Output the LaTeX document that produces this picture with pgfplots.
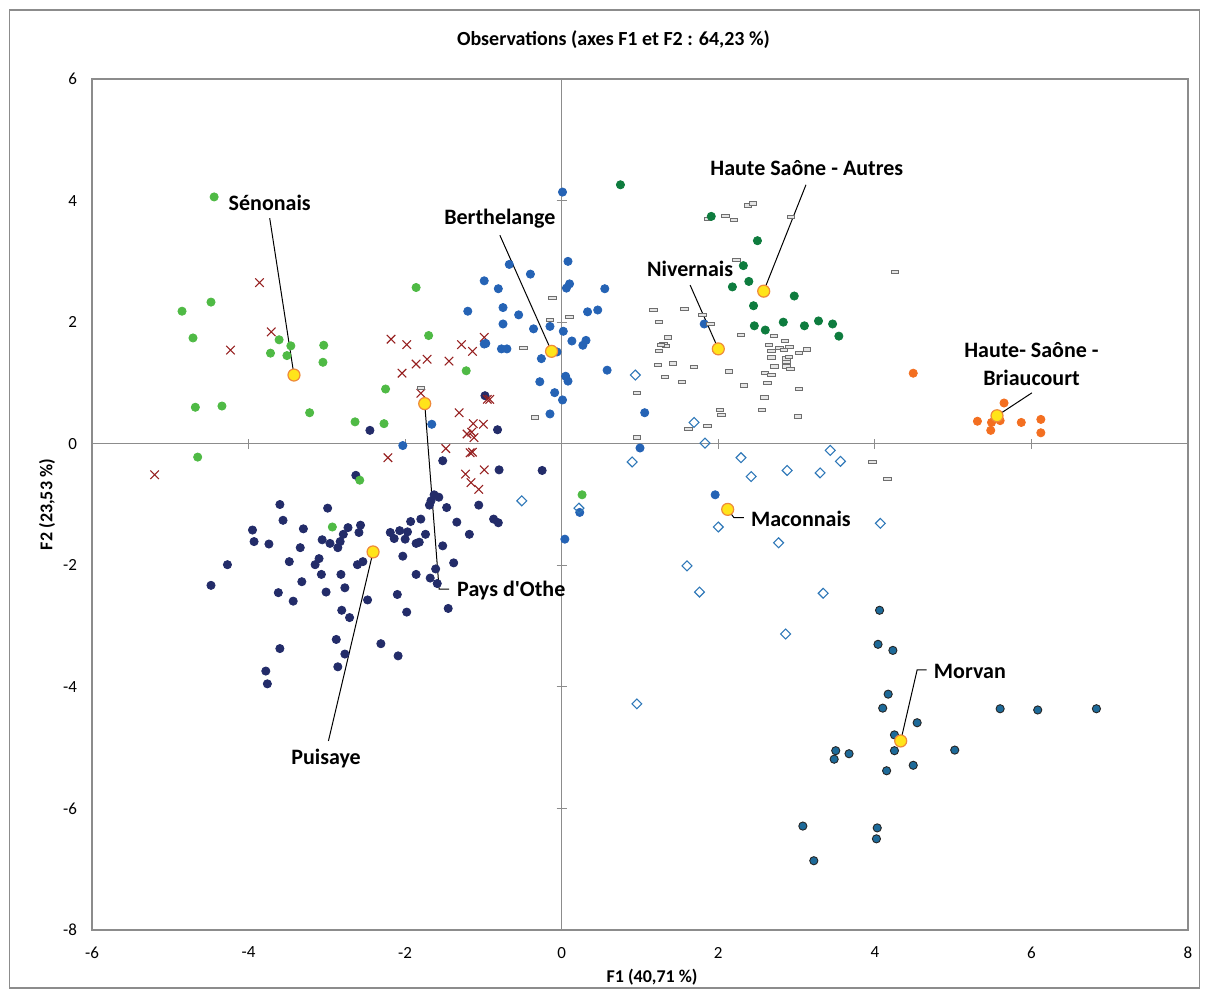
\documentclass[border=0pt]{standalone}
\usepackage{fontspec}
\setmainfont{Carlito}
\usepackage{pgfplots}
\pgfplotsset{compat=1.18}

\definecolor{cSen}{HTML}{4FBA45}
\definecolor{cOthe}{HTML}{962020}
\definecolor{cBert}{HTML}{2563B5}
\definecolor{cPuis}{HTML}{232C69}
\definecolor{cNiv}{HTML}{6E6E6E}
\definecolor{cHSA}{HTML}{0E7C3E}
\definecolor{cBria}{HTML}{F36F21}
\definecolor{cMac}{HTML}{2F78B8}
\definecolor{cMorv}{HTML}{1D6A99}
\definecolor{cCentre}{HTML}{FFE41A}
\definecolor{cCentreB}{HTML}{EE8A3A}
\definecolor{cAxe}{HTML}{8C8C8C}

\begin{document}
\begin{tikzpicture}[x=0.5pt,y=0.5pt]
\path[use as bounding box] (0,0) rectangle (1209,998);
\draw[cAxe, line width=0.7pt] (9.5,10) rectangle (1199.5,988);

\begin{axis}[
  at={(46pt,34pt)}, anchor=south west,
  scale only axis, width=548pt, height=425.5pt,
  xmin=-6, xmax=8, ymin=-8, ymax=6,
  xtick={-6,-4,...,8}, ytick={-8,-6,...,6},
  axis line style={cAxe, line width=0.7pt},
  major tick length=0pt,
  /pgf/number format/assume math mode=true,
  ticklabel style={font=\fontsize{8.5}{10}\selectfont},
  xticklabel style={inner sep=0pt, anchor=north, yshift=-8.3pt},
  yticklabel style={inner sep=0pt, anchor=east, xshift=-7.3pt},
  title={Observations (axes F1 et F2 : 64,23 \%)},
  title style={font=\bfseries\fontsize{10}{12}\selectfont, at={(axis description cs:0.4758,1.0317)}, anchor=center},
  xlabel={F1 (40,71 \%)},
  xlabel style={font=\bfseries\fontsize{9}{11}\selectfont, at={(axis description cs:0.511,-0.0552)}, anchor=center},
  ylabel={F2 (23,53 \%)},
  ylabel style={font=\bfseries\fontsize{9}{11}\selectfont, at={(axis description cs:-0.041,0.5)}, anchor=center, rotate=0},
  clip=false,
]

% axes centraux
\draw[cAxe, line width=0.6pt] (axis cs:0,-8) -- (axis cs:0,6);
\draw[cAxe, line width=0.6pt] (axis cs:-6,0) -- (axis cs:8,0);
\pgfplotsinvokeforeach{-4,-2,2,4,6}{\draw[cAxe, line width=0.6pt] ([yshift=-2.5pt]axis cs:#1,0) -- ([yshift=2.5pt]axis cs:#1,0);}
\pgfplotsinvokeforeach{-6,-4,-2,2,4}{\draw[cAxe, line width=0.6pt] ([xshift=-2.5pt]axis cs:0,#1) -- ([xshift=2.5pt]axis cs:0,#1);}

% Puisaye
\addplot[only marks, mark=*, mark size=2.05pt, color=cPuis] coordinates {
(-0.98,0.79) (-0.82,0.23) (-2.45,0.22) (-1.52,-0.28) (-2.63,-0.52) (-0.80,-0.43) (-0.25,-0.44)
(-3.60,-1.00) (-2.99,-1.06) (-1.63,-0.84) (-1.57,-0.88) (-1.67,-0.94) (-1.69,-1.01) (-1.47,-1.05)
(-1.06,-1.01) (-0.87,-1.24) (-0.81,-1.30) (-3.56,-1.26) (-3.95,-1.42) (-3.30,-1.40) (-1.93,-1.28)
(-1.80,-1.24) (-1.34,-1.29) (-2.73,-1.38) (-2.57,-1.34) (-2.59,-1.46) (-2.79,-1.49) (-2.19,-1.46)
(-2.07,-1.43) (-1.97,-1.45) (-1.74,-1.49) (-1.18,-1.49) (-3.93,-1.61) (-3.74,-1.65) (-3.06,-1.58)
(-2.96,-1.64) (-2.83,-1.61) (-2.86,-1.71) (-3.34,-1.71) (-2.14,-1.56) (-2.00,-1.57) (-1.86,-1.64)
(-1.82,-1.62) (-1.52,-1.68) (-4.27,-1.99) (-3.48,-1.94) (-3.10,-1.89) (-3.15,-1.99) (-2.61,-1.99)
(-2.54,-1.94) (-2.03,-1.85) (-1.38,-1.96) (-3.07,-2.15) (-2.82,-2.15) (-1.86,-2.15) (-1.61,-2.06)
(-1.68,-2.21) (-1.59,-2.30) (-4.48,-2.33) (-3.32,-2.27) (-3.62,-2.45) (-3.43,-2.59) (-3.01,-2.44)
(-2.77,-2.37) (-2.48,-2.57) (-2.10,-2.48) (-2.81,-2.74) (-2.71,-2.86) (-1.98,-2.77) (-1.45,-2.71)
(-3.60,-3.37) (-2.88,-3.22) (-2.77,-3.46) (-2.31,-3.29) (-2.09,-3.49) (-2.86,-3.67) (-3.78,-3.74)
(-3.76,-3.95)
};

% Senonais
\addplot[only marks, mark=*, mark size=2.05pt, color=cSen] coordinates {
(-4.44,4.06) (-4.48,2.33) (-4.85,2.18) (-4.71,1.74) (-3.61,1.71) (-3.46,1.61) (-3.04,1.62)
(-3.72,1.49) (-3.51,1.45) (-3.05,1.34) (-4.68,0.60) (-4.34,0.62) (-3.22,0.51) (-2.25,0.90)
(-2.64,0.36) (-2.27,0.33) (-4.65,-0.22) (-2.58,-0.60) (-1.86,2.57) (-1.70,1.78) (-1.22,1.20)
(-2.93,-1.37) (0.26,-0.84)
};

% Pays d'Othe
\addplot[only marks, mark=x, mark size=3pt, color=cOthe, mark options={line width=0.55pt}] coordinates {
(-5.20,-0.51) (-4.23,1.54) (-3.86,2.65) (-3.71,1.84) (-2.18,1.72) (-1.98,1.63) (-2.04,1.16)
(-2.22,-0.23) (-1.86,1.31) (-1.72,1.39) (-1.44,1.36) (-1.28,1.63) (-1.14,1.52) (-0.99,1.75)
(-1.80,0.83) (-1.31,0.51) (-1.13,0.33) (-1.00,0.32) (-1.21,0.16) (-1.15,0.19) (-1.12,0.10)
(-0.95,0.73) (-0.92,0.73) (-1.48,-0.08) (-1.17,-0.15) (-1.14,-0.14) (-1.23,-0.50) (-0.99,-0.43)
(-1.16,-0.64) (-1.06,-0.75)
};

% Berthelange
\addplot[only marks, mark=*, mark size=2.05pt, color=cBert] coordinates {
(0.01,4.14) (0.08,3.00) (-0.67,2.95) (-0.40,2.79) (-0.99,2.68) (-0.81,2.55) (0.10,2.63) (0.06,2.56)
(0.55,2.55) (-1.20,2.18) (-0.75,2.24) (-0.55,2.12) (0.33,2.17) (0.46,2.20) (-0.75,1.97) (-0.36,1.89)
(-0.15,1.93) (0.02,1.85) (0.13,1.69) (0.31,1.70) (0.27,1.62) (-0.99,1.64) (-0.97,1.65) (-0.77,1.56)
(-0.70,1.56) (-0.06,1.51) (-0.26,1.40) (0.58,1.21) (0.05,1.11) (0.08,1.03) (-0.28,1.02) (-0.09,0.84)
(0.01,0.72) (-0.15,0.49) (-1.66,0.32) (-2.03,-0.03) (1.06,0.51) (1.00,-0.07) (1.96,-0.84)
(0.23,-1.13) (0.04,-1.57) (1.82,1.97)
};

% Nivernais
\addplot[only marks, mark=square*, mark size=1.85pt, mark options={yscale=0.45, fill=white!80!gray, draw=cNiv, line width=0.5pt}] coordinates {
(2.38,3.92) (2.44,3.95) (1.87,3.70) (2.09,3.75) (2.20,3.68) (2.93,3.73) (2.23,3.02) (4.26,2.83)
(1.17,2.20) (1.57,2.22) (1.80,2.12) (1.24,2.00) (1.90,1.97) (1.36,1.75) (1.30,1.64) (1.33,1.61)
(1.27,1.62) (1.24,1.53) (2.29,1.79) (2.71,1.77) (2.85,1.69) (2.65,1.62) (2.78,1.58) (2.84,1.54)
(2.91,1.59) (2.68,1.52) (3.03,1.49) (3.13,1.55) (2.68,1.42) (2.87,1.40) (2.90,1.43) (2.87,1.34)
(2.72,1.27) (2.87,1.27) (2.92,1.23) (1.23,1.30) (1.42,1.32) (1.69,1.26) (1.32,1.10) (1.54,1.02)
(2.14,1.19) (2.60,1.16) (2.68,1.13) (2.63,1.00) (2.33,0.96) (3.03,0.90) (0.96,0.83) (2.59,0.76)
(2.02,0.56) (2.04,0.47) (2.56,0.55) (3.02,0.45) (1.86,0.29) (1.62,0.24) (0.96,0.10) (3.97,-0.30)
(4.16,-0.58) (-0.12,2.40) (-0.15,2.03) (0.10,2.09) (-0.49,1.58) (-0.34,0.43) (-1.80,0.92)
};

% Haute Saone - Autres
\addplot[only marks, mark=*, mark size=2.05pt, color=cHSA] coordinates {
(0.75,4.26) (1.91,3.74) (2.50,3.34) (2.32,2.93) (2.39,2.67) (2.18,2.58) (2.97,2.43) (2.45,2.27)
(2.46,1.94) (2.60,1.87) (2.83,2.00) (3.10,1.94) (3.28,2.02) (3.46,1.97) (3.54,1.77)
};

% Haute-Saone - Briaucourt
\addplot[only marks, mark=*, mark size=2.05pt, color=cBria] coordinates {
(4.49,1.16) (5.65,0.67) (5.31,0.37) (5.49,0.35) (5.60,0.38) (5.87,0.35) (6.12,0.40) (5.48,0.22)
(6.12,0.18)
};

% Maconnais
\addplot[only marks, mark=square, mark size=1.75pt, mark options={rotate=45, fill=white, draw=cMac, line width=0.55pt}] coordinates {
(0.94,1.13) (1.69,0.35) (1.83,0.01) (0.90,-0.30) (2.29,-0.23) (2.42,-0.54) (2.88,-0.44) (3.30,-0.48)
(3.43,-0.11) (3.56,-0.29) (-0.51,-0.94) (0.22,-1.06) (2.00,-1.37) (2.77,-1.63) (4.07,-1.31)
(1.60,-2.01) (1.76,-2.44) (3.34,-2.46) (2.86,-3.13) (0.96,-4.28)
};

% Morvan
\addplot[only marks, mark=*, mark size=2.05pt, mark options={fill=cMorv, draw=black!85, line width=0.45pt}] coordinates {
(4.06,-2.74) (4.04,-3.30) (4.23,-3.40) (4.17,-4.12) (4.10,-4.35) (5.60,-4.36) (6.08,-4.38)
(6.83,-4.36) (4.54,-4.59) (4.25,-4.79) (4.25,-5.05) (5.02,-5.04) (3.50,-5.05) (3.48,-5.19)
(3.67,-5.10) (4.49,-5.29) (4.15,-5.38) (3.08,-6.29) (4.03,-6.32) (4.02,-6.50) (3.22,-6.86)
};

% centres de gravite
\addplot[only marks, mark=*, mark size=3pt, mark options={fill=cCentre, draw=cCentreB, line width=0.6pt}] coordinates {
(-3.42,1.13) (-1.75,0.66) (-0.13,1.52) (-2.41,-1.78) (2.00,1.56) (2.58,2.51) (5.56,0.46)
(2.12,-1.08) (4.33,-4.89)
};

% etiquettes
\begin{scope}[every node/.style={font=\bfseries\fontsize{11}{14}\selectfont, inner sep=0pt}]
\draw[black, line width=0.5pt] (axis cs:-3.73,3.71) -- (axis cs:-3.42,1.13);
\node at (axis cs:-3.73,3.965) {Sénonais};
\draw[black, line width=0.5pt] (axis cs:-0.79,3.43) -- (axis cs:-0.13,1.52);
\node at (axis cs:-0.79,3.70) {Berthelange};
\draw[black, line width=0.5pt] (axis cs:3.12,4.26) -- (axis cs:2.58,2.51);
\node at (axis cs:3.13,4.54) {Haute Saône - Autres};
\draw[black, line width=0.5pt] (axis cs:1.64,2.61) -- (axis cs:2.00,1.56);
\node at (axis cs:1.64,2.88) {Nivernais};
\draw[black, line width=0.5pt] (axis cs:6.006,0.837) -- (axis cs:5.56,0.46);
\node[align=center] at (axis cs:6.00,1.31) {Haute- Saône -\\Briaucourt};
\draw[black, line width=0.5pt] (axis cs:2.12,-1.08) -- (axis cs:2.20,-1.216) -- (axis cs:2.327,-1.216);
\node[anchor=west] at (axis cs:2.413,-1.228) {Maconnais};
\draw[black, line width=0.5pt] (axis cs:4.33,-4.89) -- (axis cs:4.54,-3.72) -- (axis cs:4.66,-3.72);
\node[anchor=west] at (axis cs:4.75,-3.745) {Morvan};
\draw[black, line width=0.5pt] (axis cs:-1.75,0.66) -- (axis cs:-1.566,-2.393) -- (axis cs:-1.439,-2.393);
\node[anchor=west] at (axis cs:-1.34,-2.415) {Pays d\textquotesingle Othe};
\draw[black, line width=0.5pt] (axis cs:-2.41,-1.78) -- (axis cs:-2.98,-4.89);
\node at (axis cs:-3.01,-5.18) {Puisaye};
\end{scope}

\end{axis}
\end{tikzpicture}
\end{document}
